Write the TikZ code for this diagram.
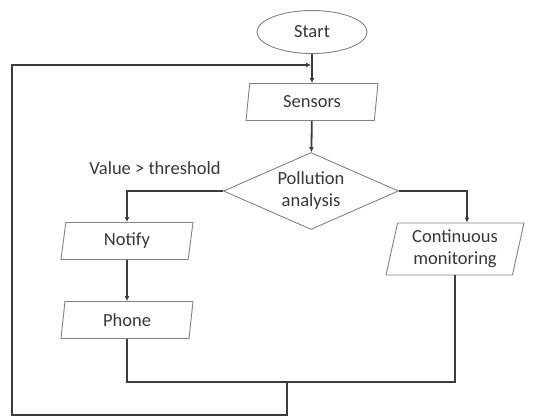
\documentclass[tikz,border=0pt]{standalone}
\usepackage{fontspec}
\setmainfont{Carlito}
\usetikzlibrary{arrows.meta}
\usetikzlibrary{shapes.geometric}
\usetikzlibrary{positioning}

\definecolor{shapegray}{RGB}{130,130,130}
\definecolor{linegray}{RGB}{60,60,60}
\definecolor{textgray}{RGB}{55,55,55}

\tikzset{
  every node/.style={font=\fontsize{18.5}{22}\selectfont, text=textgray, align=center},
  terminal/.style={ellipse, draw=shapegray, line width=0.9pt, minimum width=110pt, minimum height=43pt, inner sep=0pt},
  iobox/.style={trapezium, trapezium left angle=73, trapezium right angle=107, trapezium stretches body,
                draw=shapegray, line width=0.9pt, minimum width=132pt, minimum height=37pt, inner sep=0pt},
  decision/.style={diamond, draw=shapegray, line width=0.9pt, aspect=2.27, minimum width=175pt, minimum height=77pt, inner sep=0pt},
  flow/.style={draw=linegray, line width=1.8pt},
  flowarrow/.style={flow, -{Latex[length=5pt,width=5pt]}}
}

\begin{document}
\begin{tikzpicture}[x=1pt,y=-1pt]
\useasboundingbox (0,0) rectangle (540,416);
% boxes
\node[terminal] (start) at (312,32) {Start};
\node[iobox] (sensors) at (312,102) {Sensors};
\node[decision] (analysis) at (311,191) {Pollution\\analysis};
\node[iobox] (notify) at (127,241) {Notify};
\node[iobox] (phone) at (127,320) {Phone};
\node[iobox, minimum width=138pt, minimum height=52pt] (monitor) at (455,249) {Continuous\\monitoring};
\node (cond) at (155,168) {Value > threshold};
% points of the loop
\coordinate (merge) at (287,382);
\coordinate (low) at (287,415);
\coordinate (top) at (12,65);
\coordinate (entry) at (311,65);
% connectors
\draw[flowarrow] (start) -- (sensors);
\draw[flowarrow] (sensors) -- (analysis);
\draw[flowarrow] (analysis.west) -| (notify.north);
\draw[flowarrow] (analysis.east) -| ([xshift=12pt]monitor.north);
\draw[flowarrow] (notify) -- (phone);
\draw[flow] (phone.south) |- (merge) -| (monitor.south);
\draw[flowarrow] (merge) -- (low) -| (top) -- (entry);
\end{tikzpicture}
\end{document}
